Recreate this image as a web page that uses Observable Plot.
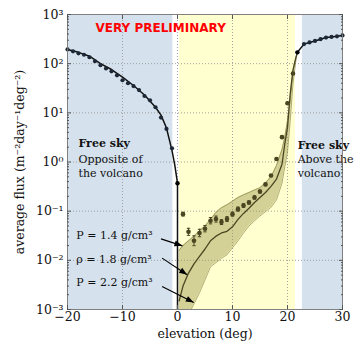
<!DOCTYPE html>
<html><head><meta charset="utf-8">
<script src="https://cdn.jsdelivr.net/npm/d3@7"></script>
<script src="https://cdn.jsdelivr.net/npm/@observablehq/plot@0.6"></script>
<style>body{margin:0;background:#fff}</style>
</head><body><div id="chart"></div>
<script>
// Free sky, opposite of the volcano (measured)
const skyLeftElev = [-20,-19,-18,-17,-16,-15,-14,-13,-12,-11,-10,-9,-8,-7,-6,-5,-4,-3,-2,-1];
const skyLeftFlux = [195,178,162,152,135,112,93,80,70,58,46,40,35,29,22,18,13,8,4.7,1.9];
// Free sky, above the volcano (measured)
const skyRightElev = [23,24,25,26,27,28,29,30];
const skyRightFlux = [250,270,290,315,340,350,360,375];
// Through the volcano (measured, with relative errors)
const volcElev = [1,2,3,4,5,6,7,8,9,10,11,12,13,14,15,16,17,18,19,20,21];
const volcFlux = [0.087,0.038,0.025,0.036,0.044,0.064,0.069,0.060,0.069,0.087,0.11,0.13,0.15,0.19,0.25,0.35,0.53,1.15,3.2,15.7,63];
const volcErr  = [0.09,0.18,0.26,0.19,0.16,0.16,0.15,0.12,0.12,0.10,0.10,0.09,0.08,0.08,0.07,0.06,0.05,0.05,0.05,0.05,0.05];
// Model through the volcano for three densities
const modelElev  = [0.3,1,2,3,4,5,6,7,8,9,10,11,12,13,14,15,16,17,18,19,19.5,20,20.5,21,21.5,21.8];
const modelRho14 = [0.016,0.020,0.025,0.031,0.040,0.050,0.068,0.095,0.118,0.135,0.16,0.19,0.215,0.24,0.27,0.30,0.38,0.50,0.85,1.8,3.2,7,20,70,130,170];
const modelRho18 = [0.0015,0.003,0.0055,0.0085,0.012,0.017,0.025,0.031,0.036,0.039,0.048,0.068,0.09,0.115,0.15,0.19,0.24,0.32,0.45,0.9,2.3,5,25,75,130,170];
const modelRho22 = [0.0002,0.0003,0.0008,0.0013,0.0022,0.004,0.0074,0.009,0.011,0.013,0.018,0.025,0.036,0.050,0.064,0.080,0.098,0.12,0.17,0.37,0.8,1.6,7,40,110,170];
// Free-sky model curves
const skyModelLeftElev = [-20,-18,-16,-14,-12,-10,-8,-6,-4,-3,-2,-1,-0.5,0,0];
const skyModelLeftFlux = [195,170,142,100,76,53,36,23,13,9,4.9,1.7,0.87,0.37,0.0009];
const skyModelRightElev = [21.8,23,24,25,26,27,28,29,30];
const skyModelRightFlux = [170,250,270,290,315,340,350,360,375];
const modelDotElev = [0,21.8];
const modelDotFlux = [0.37,170];
// Shaded regions
const regionStart = [-20,0.35,22.7];
const regionEnd   = [-0.85,21.45,30];
const regionKind  = ["sky","volcano","sky"];
// Ticks
const xTicks = [-20,-10,0,10,20,30];
const xTickLabels = ["\u221220","\u221210","0","10","20","30"];
const yTicks = [1e-3,1e-2,1e-1,1e0,1e1,1e2,1e3];
const yTickLabels = ["10\u207B\u00B3","10\u207B\u00B2","10\u207B\u00B9","10\u2070","10\u00B9","10\u00B2","10\u00B3"];
// Annotation texts
const densityLabels = ["P = 1.4 g/cm\u00B3","\u03C1 = 1.8 g/cm\u00B3","P = 2.2 g/cm\u00B3"];

const yMinor = [];
for (let k = -3; k < 3; k++) for (let m = 2; m < 10; m++) yMinor.push(m * Math.pow(10, k));

const skyLeft = skyLeftElev.map((x,i)=>({x, y: skyLeftFlux[i]}));
const skyRight = skyRightElev.map((x,i)=>({x, y: skyRightFlux[i]}));
const volc = volcElev.map((x,i)=>({x, y: volcFlux[i], lo: volcFlux[i]/(1+volcErr[i]), hi: volcFlux[i]*(1+volcErr[i])}));
const model = modelElev.map((x,i)=>({x, a: modelRho14[i], b: modelRho18[i], c: modelRho22[i]}));
const mLeft = skyModelLeftElev.map((x,i)=>({x, y: skyModelLeftFlux[i]}));
const mRight = skyModelRightElev.map((x,i)=>({x, y: skyModelRightFlux[i]}));
const mDots = modelDotElev.map((x,i)=>({x, y: modelDotFlux[i]}));
const regions = regionStart.map((s,i)=>({x1: s, x2: regionEnd[i], kind: regionKind[i]}));
const regionFill = {sky: "#d5e1ed", volcano: "#ffffcf"};

const annots = [
  {x: -18.4, y: 0.0316, t: densityLabels[0], x1: -3.0, y1: 0.0273, x2: 0.9, y2: 0.0197},
  {x: -18.4, y: 0.0104, t: densityLabels[1], x1: -2.8, y1: 0.0111, x2: 1.76, y2: 0.00508},
  {x: -18.4, y: 0.0035, t: densityLabels[2], x1: -2.8, y1: 0.00295, x2: 2.96, y2: 0.00139}
];

const OLIVE = "#4a4622", NAVY = "#1d2836", SERIF = "DejaVu Serif";

const chart = Plot.plot({
  width: 360, height: 344,
  marginLeft: 67, marginRight: 18, marginTop: 14, marginBottom: 35,
  style: {fontFamily: SERIF, fontSize: "12.5px", color: "#111", background: "#fff"},
  x: {domain: [-20, 30]},
  y: {type: "log", domain: [1e-3, 1e3]},
  marks: [
    Plot.rect(regions, {x1: "x1", x2: "x2", fill: d => regionFill[d.kind]}),
    Plot.gridX({ticks: [-10,0,10,20], stroke: "#999", strokeOpacity: 0.9, strokeDasharray: "1,2"}),
    Plot.gridY({ticks: [1e-2,1e-1,1e0,1e1,1e2], stroke: "#999", strokeOpacity: 0.9, strokeDasharray: "1,2"}),
    Plot.areaY(model, {x: "x", y1: "c", y2: "a", fill: "#a09a50", fillOpacity: 0.45, clip: true}),
    Plot.line(model, {x: "x", y: "a", stroke: "#8d874c", strokeWidth: 0.7, clip: true}),
    Plot.line(model, {x: "x", y: "c", stroke: "#8d874c", strokeWidth: 0.7, clip: true}),
    Plot.line(model, {x: "x", y: "b", stroke: OLIVE, strokeWidth: 1.3, clip: true}),
    Plot.line(mLeft, {x: "x", y: "y", stroke: "#111", strokeWidth: 1.5, clip: true}),
    Plot.line(mRight, {x: "x", y: "y", stroke: "#111", strokeWidth: 1.5}),
    Plot.ruleX(volc, {x: "x", y1: "lo", y2: "hi", stroke: OLIVE, strokeWidth: 1}),
    Plot.link(volc, {x1: d => d.x - 0.3, x2: d => d.x + 0.3, y1: "hi", y2: "hi", stroke: OLIVE}),
    Plot.link(volc, {x1: d => d.x - 0.3, x2: d => d.x + 0.3, y1: "lo", y2: "lo", stroke: OLIVE}),
    Plot.dot(volc, {x: "x", y: "y", r: 2.3, fill: OLIVE}),
    Plot.dot(skyLeft, {x: "x", y: "y", r: 2.1, fill: NAVY}),
    Plot.dot(skyRight, {x: "x", y: "y", r: 2.1, fill: NAVY}),
    Plot.dot(mDots, {x: "x", y: "y", r: 2.2, fill: "#000"}),
    Plot.text(["VERY PRELIMINARY"], {x: -14.9, y: 520, text: d => d, textAnchor: "start", fill: "#ff0000", fontFamily: "DejaVu Sans", fontWeight: "bold", fontSize: 12}),
    Plot.text(["Free sky"], {x: -18, y: 2.42, text: d => d, textAnchor: "start", fontWeight: "bold", fontSize: 11, fill: "#111"}),
    Plot.text(["Opposite of\nthe volcano"], {x: -18, y: 0.865, text: d => d, textAnchor: "start", fontSize: 11, lineHeight: 1.27, fill: "#111"}),
    Plot.text(["Free sky"], {x: 21.85, y: 2.2, text: d => d, textAnchor: "start", fontWeight: "bold", fontSize: 11, fill: "#111"}),
    Plot.text(["Above the\nvolcano"], {x: 21.85, y: 0.865, text: d => d, textAnchor: "start", fontSize: 11, lineHeight: 1.27, fill: "#111"}),
    Plot.text(annots, {x: "x", y: "y", text: "t", textAnchor: "start", fontSize: 11, fill: "#111"}),
    Plot.link(annots, {x1: "x1", y1: "y1", x2: "x2", y2: "y2", stroke: "#000", strokeWidth: 1.1, markerEnd: "arrow"}),
    Plot.frame({stroke: "#808080"}),
    Plot.axisX({ticks: xTicks, tickFormat: d => xTickLabels[xTicks.indexOf(d)], tickSize: 0, tickPadding: 3, label: "elevation (deg)", labelAnchor: "center", labelOffset: 28, labelArrow: "none", fontSize: 12.5}),
    Plot.axisX({anchor: "bottom", ticks: xTicks, tickSize: -4, fill: "none", label: null, stroke: "#555"}),
    Plot.axisX({anchor: "top", ticks: xTicks, tickSize: -4, fill: "none", label: null, stroke: "#555"}),
    Plot.axisY({ticks: yTicks, tickFormat: d => yTickLabels[yTicks.indexOf(d)], tickSize: 0, tickPadding: 4, label: "average flux (m\u207B\u00B2day\u207B\u00B9deg\u207B\u00B2)", labelAnchor: "center", labelOffset: 52, labelArrow: "none", fontSize: 12.5}),
    Plot.axisY({anchor: "left", ticks: yTicks, tickSize: -4, fill: "none", label: null, stroke: "#555"}),
    Plot.axisY({anchor: "right", ticks: yTicks, tickSize: -4, fill: "none", label: null, stroke: "#555"}),
    Plot.axisY({anchor: "left", ticks: yMinor, tickSize: -2, fill: "none", label: null, stroke: "#555"}),
    Plot.axisY({anchor: "right", ticks: yMinor, tickSize: -2, fill: "none", label: null, stroke: "#555"})
  ]
});

// filled arrow heads
chart.querySelectorAll("marker").forEach(m => {
  m.setAttribute("viewBox", "-9 -5 10 10");
  m.setAttribute("markerWidth", "10");
  m.setAttribute("markerHeight", "10");
  m.setAttribute("markerUnits", "userSpaceOnUse");
  const color = m.getAttribute("stroke") || "#000";
  m.setAttribute("fill", color);
  m.setAttribute("stroke", "none");
  m.querySelectorAll("path").forEach(p => p.setAttribute("d", "M-8,-3L0,0L-8,3Z"));
});

document.getElementById("chart").appendChild(chart);
</script>
</body></html>
